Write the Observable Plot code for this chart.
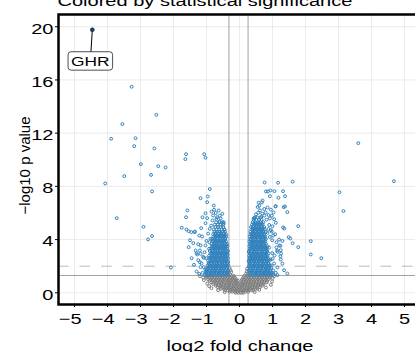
<!DOCTYPE html>
<html><head><meta charset="utf-8">
<script src="https://cdn.jsdelivr.net/npm/d3@7"></script>
<script src="https://cdn.jsdelivr.net/npm/@observablehq/plot@0.6"></script>
<style>html,body{margin:0;padding:0;background:#fff;overflow:hidden}</style>
</head><body><div id="chart"></div>
<script>
const titleText = "Colored by statistical significance";
const xLabel = "log2 fold change";
const yLabel = "−log10 p value";
const xTicks = [-5,-4,-3,-2,-1,0,1,2,3,4,5];
const yTicks = [0,4,8,12,16,20];
const fcCutoffs = [-0.32, 0.26];
const pCutoff = [1.301];
const adjCutoff = [2];
const labelGenes = ["GHR"];
const labelGeneX = [-4.46];
const labelGeneY = [19.77];
const labelPosX = [-4.52];
const labelPosY = [17.39];

// significant genes read individually (outliers and cluster periphery)
const sigPoints = [
[-3.27,15.49],[-2.52,13.38],[-3.55,12.68],[-3.89,11.58],[-3.15,11.62],[-3.19,11.02],[-2.58,10.85],[-1.62,10.42],[-1.64,10.05],[-1.07,10.42],[-1.03,10.15],[-2.99,9.67],[-2.46,9.52],[-2.24,9.42],[-3.49,8.77],[-2.68,8.86],[-4.07,8.22],[-2.65,7.62],[-0.90,7.80],[-3.72,5.61],[-2.91,4.96],[-2.65,4.26],[-2.77,4.01],[-2.08,1.90],
[-0.96,7.24],[-1.18,7.11],[-0.98,6.81],[-1.58,6.19],[-0.78,6.56],[-0.77,6.24],[-1.03,5.98],[-1.62,5.68],[-1.12,5.68],[-0.98,5.61],[-0.52,5.94],[-0.82,5.44],[-0.61,5.36],[-0.48,5.31],[-1.75,4.89],[-1.61,4.76],[-1.54,4.63],[-1.46,4.56],[-1.36,4.56],[-1.16,4.86],[-0.45,4.74],[-1.40,3.73],[-1.54,3.43],[-1.18,3.56],[-0.91,3.80],[-0.92,3.31],[-1.30,2.98],[-1.28,2.88],[-1.20,2.30],[-1.00,2.60],[-1.04,1.77],[-1.35,4.60],[-1.18,2.93],[-1.08,1.93],
[-0.63,6.19],[-0.80,5.81],[-0.68,5.68],[-0.48,5.19],[-1.03,5.23],[-0.90,4.81],[-1.13,4.23],[-0.88,4.06],[-1.03,3.56],[-1.20,3.18],[-1.08,2.63],[-1.18,1.93],[-1.01,1.68],[-1.12,1.50],[-1.15,2.20],[-1.10,2.70],[-1.06,3.05],[-1.00,3.90],[-0.95,4.45],[-0.86,5.05],[-0.70,5.55],[-0.57,5.60],[-1.25,2.45],[-1.30,1.60],[-1.22,1.42],[-1.38,2.10],[-1.45,2.60],[-1.25,3.65],[-1.50,3.95],[-1.22,4.30],[-0.72,6.00],[-0.60,5.80],[-0.85,6.10],[-1.33,3.18],
[3.60,11.25],[4.68,8.39],[1.61,8.35],[3.03,7.56],[3.15,6.14],[1.32,7.64],[1.38,7.26],[1.34,6.44],[1.38,6.49],[1.45,6.06],[1.32,4.91],[1.36,4.83],[1.78,5.01],[1.49,4.18],[1.54,4.08],[1.61,3.73],[1.78,3.43],[2.16,3.88],[1.24,3.53],[1.26,2.95],[2.16,2.88],[2.48,2.60],[1.45,1.45],
[0.76,8.29],[1.17,8.27],[0.80,7.62],[0.94,7.69],[0.92,7.26],[1.18,7.14],[0.70,6.94],[0.58,6.77],[1.09,6.49],[0.85,6.41],[0.57,6.02],[0.69,5.96],[0.79,6.04],[1.03,6.04],[0.92,5.59],[1.05,5.53],[0.45,5.61],[1.10,5.26],[0.99,3.95],[1.21,3.56],[0.99,2.98],[1.15,3.08],[1.24,2.75],[1.02,1.68],[1.15,1.33],[1.14,3.18],[1.06,2.80],[0.94,2.50],[0.96,2.05],[0.82,1.80],[0.77,1.43],[0.86,7.62],[1.06,7.64],[0.68,6.79],[1.10,6.51],[0.43,5.61],
[0.50,5.90],[0.62,6.20],[0.55,6.45],[0.75,6.30],[0.98,5.80],[0.88,5.85],[0.66,5.70],[0.95,6.25],[0.60,6.55],[1.00,5.00],[0.95,4.70],[1.08,4.40],[0.92,4.20],[1.12,3.80],[0.90,3.40],[1.30,3.90],[1.25,3.20],[1.10,1.50],[1.15,1.90],[1.05,2.20],[1.00,2.55],[1.12,3.40],[1.02,4.30],[0.88,4.80],[0.90,5.10],[0.82,5.50],[0.75,5.80],[1.30,2.20],[1.35,1.70],[1.25,2.50],[0.98,4.60],[1.20,4.00],[0.85,4.50]
];

// dense significant arms: [y, x values]
const sigLeftRows = [
[1.35,[-1.05,-0.98,-0.90,-0.82,-0.74,-0.66,-0.58,-0.50,-0.42,-0.35]],
[1.44,[-1.01,-0.94,-0.86,-0.78,-0.70,-0.62,-0.54,-0.46,-0.38]],
[1.52,[-1.02,-0.94,-0.86,-0.78,-0.70,-0.62,-0.54,-0.46,-0.38]],
[1.61,[-0.98,-0.90,-0.82,-0.74,-0.66,-0.58,-0.50,-0.42,-0.34]],
[1.70,[-0.99,-0.91,-0.83,-0.75,-0.67,-0.59,-0.51,-0.43,-0.35]],
[1.79,[-0.95,-0.87,-0.79,-0.71,-0.63,-0.55,-0.47,-0.39]],
[1.88,[-0.96,-0.88,-0.80,-0.72,-0.64,-0.56,-0.48,-0.40]],
[1.97,[-0.93,-0.85,-0.77,-0.69,-0.61,-0.53,-0.45,-0.37]],
[2.06,[-0.97,-0.89,-0.81,-0.73,-0.65,-0.57,-0.49,-0.41,-0.34]],
[2.15,[-0.92,-0.84,-0.76,-0.68,-0.60,-0.52,-0.44,-0.36]],
[2.24,[-0.93,-0.85,-0.77,-0.69,-0.61,-0.53,-0.45,-0.37]],
[2.33,[-0.90,-0.82,-0.74,-0.66,-0.58,-0.50,-0.42,-0.34]],
[2.42,[-0.95,-0.87,-0.79,-0.71,-0.63,-0.55,-0.47,-0.39]],
[2.51,[-0.88,-0.80,-0.72,-0.64,-0.56,-0.48,-0.40]],
[2.60,[-0.91,-0.83,-0.75,-0.67,-0.59,-0.51,-0.43,-0.35]],
[2.69,[-0.87,-0.79,-0.71,-0.63,-0.55,-0.47,-0.39]],
[2.78,[-0.92,-0.84,-0.76,-0.68,-0.60,-0.52,-0.44,-0.37]],
[2.87,[-0.85,-0.77,-0.69,-0.61,-0.53,-0.45,-0.36]],
[2.96,[-0.88,-0.80,-0.72,-0.64,-0.56,-0.48,-0.40]],
[3.05,[-0.84,-0.76,-0.68,-0.60,-0.52,-0.44,-0.37]],
[3.14,[-0.90,-0.82,-0.74,-0.66,-0.58,-0.50,-0.42,-0.35]],
[3.23,[-0.82,-0.74,-0.66,-0.58,-0.50,-0.42]],
[3.32,[-0.86,-0.78,-0.70,-0.62,-0.54,-0.46,-0.38]],
[3.41,[-0.81,-0.73,-0.65,-0.57,-0.49,-0.41]],
[3.50,[-0.84,-0.76,-0.68,-0.60,-0.52,-0.44,-0.37]],
[3.59,[-0.80,-0.72,-0.64,-0.56,-0.48,-0.40]],
[3.68,[-0.85,-0.77,-0.69,-0.61,-0.53,-0.45,-0.38]],
[3.77,[-0.77,-0.69,-0.61,-0.53,-0.45]],
[3.86,[-0.81,-0.73,-0.65,-0.57,-0.49,-0.41]],
[3.95,[-0.78,-0.70,-0.62,-0.54,-0.46]],
[4.04,[-0.83,-0.75,-0.67,-0.59,-0.51,-0.43]],
[4.13,[-0.74,-0.66,-0.58,-0.50,-0.43]],
[4.22,[-0.79,-0.71,-0.63,-0.55,-0.47,-0.40]],
[4.31,[-0.75,-0.67,-0.59,-0.51,-0.44]],
[4.40,[-0.80,-0.72,-0.64,-0.56,-0.48,-0.41]],
[4.49,[-0.72,-0.64,-0.56,-0.48]],
[4.58,[-0.76,-0.68,-0.60,-0.52,-0.44]],
[4.76,[-0.78,-0.70,-0.62,-0.54,-0.46]],
[4.94,[-0.73,-0.65,-0.57,-0.49]],
[5.12,[-0.75,-0.66,-0.58,-0.50]],
[5.30,[-0.71,-0.60,-0.52]]
];
const sigRightRows = [
[1.35,[0.30,0.38,0.46,0.54,0.62,0.70,0.78,0.86,0.94,1.02]],
[1.44,[0.34,0.42,0.50,0.58,0.66,0.74,0.82,0.90,0.98]],
[1.52,[0.34,0.42,0.50,0.58,0.66,0.74,0.82,0.90,0.98]],
[1.61,[0.30,0.38,0.46,0.54,0.62,0.70,0.78,0.86,0.94]],
[1.70,[0.29,0.37,0.45,0.53,0.61,0.69,0.77,0.85,0.93]],
[1.79,[0.33,0.41,0.49,0.57,0.65,0.73,0.81,0.89]],
[1.88,[0.32,0.40,0.48,0.56,0.64,0.72,0.80,0.88,0.96]],
[1.97,[0.28,0.36,0.44,0.52,0.60,0.68,0.76,0.84,0.91]],
[2.06,[0.29,0.36,0.44,0.52,0.60,0.68,0.76,0.84,0.92]],
[2.15,[0.32,0.40,0.48,0.56,0.64,0.72,0.80,0.88]],
[2.24,[0.31,0.39,0.47,0.55,0.63,0.71,0.79,0.87]],
[2.33,[0.28,0.35,0.43,0.51,0.59,0.67,0.75,0.83]],
[2.42,[0.28,0.36,0.44,0.52,0.60,0.68,0.76,0.84,0.91]],
[2.51,[0.32,0.40,0.48,0.56,0.64,0.72,0.80,0.88]],
[2.60,[0.30,0.38,0.46,0.54,0.62,0.70,0.78,0.86]],
[2.69,[0.33,0.41,0.49,0.57,0.65,0.73,0.81]],
[2.78,[0.29,0.37,0.45,0.53,0.61,0.69,0.77,0.85]],
[2.87,[0.34,0.42,0.50,0.58,0.66,0.74,0.82]],
[2.96,[0.32,0.40,0.48,0.56,0.64,0.72,0.80,0.88]],
[3.05,[0.28,0.36,0.44,0.52,0.60,0.68,0.76,0.83]],
[3.14,[0.29,0.37,0.45,0.53,0.61,0.69,0.77,0.84]],
[3.23,[0.33,0.41,0.49,0.57,0.65,0.73,0.81]],
[3.32,[0.31,0.39,0.47,0.55,0.63,0.71,0.79]],
[3.41,[0.35,0.43,0.51,0.59,0.67,0.75,0.82]],
[3.50,[0.30,0.38,0.46,0.54,0.62,0.70,0.78,0.85]],
[3.59,[0.34,0.42,0.50,0.58,0.66,0.74]],
[3.68,[0.32,0.40,0.48,0.56,0.64,0.72,0.80]],
[3.77,[0.35,0.43,0.51,0.59,0.67,0.75]],
[3.86,[0.30,0.38,0.46,0.54,0.62,0.70,0.78]],
[3.95,[0.34,0.42,0.50,0.58,0.66,0.74]],
[4.04,[0.33,0.41,0.49,0.57,0.65,0.73,0.80]],
[4.13,[0.37,0.45,0.53,0.61,0.69,0.76]],
[4.22,[0.31,0.39,0.47,0.55,0.63,0.71,0.78]],
[4.31,[0.36,0.44,0.52,0.60,0.68,0.75]],
[4.40,[0.34,0.42,0.50,0.58,0.66,0.74]],
[4.49,[0.38,0.46,0.54,0.62,0.70]],
[4.58,[0.33,0.41,0.49,0.57,0.65,0.73,0.80]],
[4.67,[0.40,0.48,0.56,0.64,0.72]],
[4.76,[0.36,0.44,0.52,0.60,0.68,0.76]],
[4.85,[0.40,0.48,0.56,0.64,0.71]],
[4.94,[0.35,0.43,0.51,0.59,0.67,0.75]],
[5.03,[0.42,0.50,0.58,0.66]],
[5.12,[0.38,0.46,0.54,0.62,0.70]],
[5.21,[0.44,0.52,0.60,0.68]],
[5.30,[0.40,0.48,0.56,0.64,0.72]],
[5.48,[0.43,0.51,0.59,0.67]],
[5.66,[0.47,0.55,0.63]]
];

// non-significant genes: [y, x values]
const nsRows = [
[1.26,[-1.02,-0.96,-0.88,-0.80,-0.72,-0.64,-0.56,-0.48,-0.40,-0.32,-0.24,-0.17,0.14,0.24,0.32,0.40,0.48,0.56,0.64,0.72,0.80,0.88,0.95]],
[1.14,[-1.00,-0.92,-0.84,-0.76,-0.68,-0.60,-0.52,-0.44,-0.36,-0.28,-0.20,-0.14,0.12,0.20,0.28,0.36,0.44,0.52,0.60,0.68,0.76,0.84,0.92]],
[1.02,[-0.95,-0.87,-0.79,-0.71,-0.63,-0.55,-0.47,-0.39,-0.31,-0.23,-0.15,-0.09,0.08,0.16,0.24,0.32,0.40,0.48,0.56,0.64,0.72,0.80,0.88]],
[0.90,[-0.90,-0.82,-0.74,-0.66,-0.58,-0.50,-0.42,-0.34,-0.26,-0.18,-0.11,-0.05,0.06,0.12,0.20,0.28,0.36,0.44,0.52,0.60,0.68,0.76,0.84]],
[0.78,[-0.86,-0.78,-0.70,-0.62,-0.54,-0.46,-0.38,-0.30,-0.22,-0.14,-0.07,0.06,0.12,0.19,0.27,0.35,0.43,0.51,0.59,0.67,0.75,0.83]],
[0.66,[-0.80,-0.72,-0.64,-0.56,-0.48,-0.40,-0.32,-0.24,-0.16,-0.09,-0.03,0.04,0.10,0.17,0.25,0.33,0.41,0.49,0.57,0.65,0.73]],
[0.54,[-0.72,-0.64,-0.56,-0.48,-0.40,-0.32,-0.24,-0.16,-0.08,0.00,0.08,0.16,0.24,0.32,0.40,0.48,0.56,0.64,0.70]],
[0.42,[-0.66,-0.58,-0.50,-0.42,-0.34,-0.26,-0.18,-0.10,-0.02,0.06,0.14,0.22,0.30,0.38,0.46,0.54,0.62]],
[0.30,[-0.56,-0.48,-0.40,-0.32,-0.24,-0.16,-0.08,0.00,0.08,0.16,0.24,0.32,0.40,0.48,0.54]],
[0.19,[-0.44,-0.36,-0.28,-0.20,-0.12,-0.04,0.04,0.12,0.20,0.28,0.36,0.42]],
[0.08,[-0.30,-0.22,-0.14,-0.06,0.02,0.10,0.18,0.26]],
[0.00,[-0.12,-0.04,0.04,0.11]]
];
const nsPoints = [
[-1.10,1.15],[-1.08,0.95],[-0.98,0.70],[-0.92,0.50],[1.00,1.10],[0.99,0.85],[0.95,0.60],[-1.20,1.25],[1.05,1.25],[-0.85,0.35],[0.80,0.40],[-0.65,0.20],[0.60,0.22],[0.46,0.05],[-0.45,0.04],
[-0.28,1.40],[-0.25,1.55],[-0.27,1.70],[0.20,1.45],[0.22,1.60],[0.24,1.35],[-0.30,1.85],[0.23,1.80]
];

const ns = [];
for (const [y, xs] of nsRows) for (const x of xs) ns.push({x, y});
for (const [x, y] of nsPoints) ns.push({x, y});
const sig = [];
for (const [y, xs] of sigLeftRows.concat(sigRightRows)) for (const x of xs) sig.push({x, y});
for (const [x, y] of sigPoints) sig.push({x, y});
const genes = labelGenes.map((g, i) => ({gene: g, x: labelGeneX[i], y: labelGeneY[i], lx: labelPosX[i], ly: labelPosY[i]}));

const plot = Plot.plot({
  width: 415, height: 352,
  marginLeft: 58, marginRight: -4, marginTop: 14, marginBottom: 48,
  x: {domain: [-5.485, 5.455], ticks: xTicks, tickSize: 3, tickPadding: 6, label: null},
  y: {domain: [-0.88, 20.92], ticks: yTicks, tickSize: 3, tickPadding: 2, label: null},
  style: {fontFamily: '"Liberation Sans", Arial, sans-serif', fontSize: "15px", color: "black", background: "white", overflow: "visible"},
  marks: [
    Plot.ruleX(xTicks, {stroke: "#ebebeb", strokeWidth: 1}),
    Plot.ruleY(yTicks, {stroke: "#ebebeb", strokeWidth: 1}),
    Plot.ruleX(fcCutoffs, {stroke: "#8a8a8a", strokeWidth: 0.8}),
    Plot.ruleY(pCutoff, {stroke: "#8a8a8a", strokeWidth: 0.8}),
    Plot.ruleY(adjCutoff, {stroke: "#a8a8a8", strokeWidth: 0.8, strokeDasharray: "10.7,10.8"}),
    Plot.dot(ns, {x: "x", y: "y", r: 1.45, stroke: "#7f7f7f", strokeWidth: 1, fill: "none"}),
    Plot.dot(sig, {x: "x", y: "y", r: 1.45, stroke: "#3182bd", strokeWidth: 1, fill: "none"}),
    Plot.link(genes, {x1: "x", y1: "y", x2: "lx", y2: "ly", stroke: "black", strokeWidth: 1}),
    Plot.dot(genes, {x: "x", y: "y", r: 2, fill: "#173a5e", stroke: "#0b1e33", strokeWidth: 0.5}),
    Plot.text(genes, {x: "lx", y: "ly", text: "gene", fontSize: 13, fill: "black"}),
    Plot.frame({stroke: "black", strokeWidth: 2.5}),
    Plot.text([titleText], {frameAnchor: "top-left", text: d => d, textAnchor: "start", lineAnchor: "bottom", dx: -1, dy: -9, fontSize: 15}),
    Plot.text([xLabel], {frameAnchor: "bottom", text: d => d, textAnchor: "middle", lineAnchor: "bottom", dx: 1, dy: 46, fontSize: 15}),
    Plot.text([yLabel], {frameAnchor: "left", text: d => d, textAnchor: "middle", rotate: -90, lineAnchor: "bottom", dx: -29, dy: 6, fontSize: 15})
  ]
});
document.getElementById("chart").append(plot);

// horizontal stretch of horizontal texts (as in the reference)
const S = 1.335;
const sb0 = plot.getBoundingClientRect();
const tickStrings = new Set(xTicks.concat(yTicks).map(v => (v < 0 ? "−" + Math.abs(v) : String(v))));
plot.querySelectorAll("text").forEach(t => {
  if (t.textContent === yLabel) return;
  const r = t.getBoundingClientRect();
  const isTick = tickStrings.has(t.textContent);
  const isYTick = isTick && (r.right - sb0.left) < 58;
  const isXTick = isTick && (r.top - sb0.top) > 300;
  const b = t.getBBox();
  const a = getComputedStyle(t).getPropertyValue("text-anchor");
  const cx = a === "start" ? b.x : a === "end" ? b.x + b.width : b.x + b.width / 2;
  let extra = "";
  if (isYTick) extra = " translate(0,2)";
  if (isXTick && t.textContent.startsWith("−")) extra = " translate(-4.3,0)";
  const tr = t.getAttribute("transform") || "";
  t.setAttribute("transform", `${tr}${extra} translate(${cx},0) scale(${S},1) translate(${-cx},0)`);
});

// label box behind gene label
const sb = plot.getBoundingClientRect();
plot.querySelectorAll("text").forEach(t => {
  if (!labelGenes.includes(t.textContent)) return;
  const tb = t.getBoundingClientRect();
  const rect = document.createElementNS("http://www.w3.org/2000/svg", "rect");
  rect.setAttribute("x", tb.left - sb.left - 3);
  rect.setAttribute("y", tb.top - sb.top - 2);
  rect.setAttribute("width", tb.width + 6);
  rect.setAttribute("height", tb.height + 4);
  rect.setAttribute("rx", 3);
  rect.setAttribute("fill", "white");
  rect.setAttribute("stroke", "#222");
  rect.setAttribute("stroke-width", 0.8);
  let g = t; while (g.parentNode !== plot) g = g.parentNode;
  plot.insertBefore(rect, g);
});
</script></body></html>
